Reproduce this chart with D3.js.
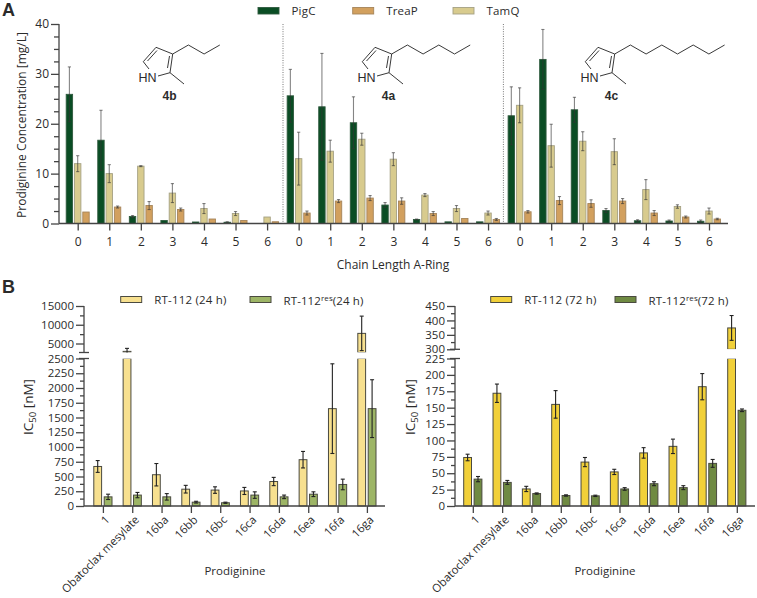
<!DOCTYPE html>
<html><head><meta charset="utf-8">
<script src="https://cdn.jsdelivr.net/npm/d3@7"></script>
<style>
html,body{margin:0;padding:0;background:#fff}
svg{display:block}
text{font-family:"Open Sans",sans-serif;fill:#2b2b2b}
</style></head><body>
<svg id="c" width="757" height="598"></svg>
<script>
// ---- Panel A data ----
const chainLengths = [0,1,2,3,4,5,6];
const seriesA = ["PigC","TamQ","TreaP"];
const legendA = ["PigC","TreaP","TamQ"];
const pigC  = [25.9,16.7,1.4,0.6,0.3,0.25,0,  25.6,23.4,20.2,3.7,0.8,0.33,0.33,  21.6,32.9,22.8,2.6,0.55,0.5,0.45];
const pigCE = [5.5,6,0.2,0,0,0.1,0,  5.3,10.7,5.2,0.5,0.1,0,0,  5.8,6,2.5,0.4,0.2,0.2,0.25];
const tamQ  = [12,10,11.5,6.1,3,2,1.3,  13,14.5,16.9,12.9,5.7,3,2.1,  23.7,15.6,16.5,14.4,6.8,3.4,2.5];
const tamQE = [1.6,1.8,0.1,1.9,1,0.4,0,  5.3,2.2,1.2,1.3,0.3,0.6,0.4,  3.5,4.3,1.9,2.6,2,0.35,0.6];
const treaP = [2.3,3.3,3.6,2.8,0.9,0.6,0.35,  2.1,4.5,5.1,4.5,2,1,0.8,  2.35,4.6,4,4.5,2.1,1.3,0.9];
const treaPE= [0,0.2,0.8,0.3,0,0,0,  0.4,0.3,0.5,0.65,0.4,0,0.2,  0.25,0.8,0.75,0.5,0.5,0.2,0.15];
const yTicksA = [0,10,20,30,40];
const moleculeChains = [{name:"4b",carbons:3},{name:"4a",carbons:5},{name:"4c",carbons:7}];

// ---- Panel B data ----
const compounds = ["1","Obatoclax mesylate","16ba","16bb","16bc","16ca","16da","16ea","16fa","16ga"];
const rt24  = [670,2900,530,285,270,255,415,785,1650,7700];
const rt24E = [100,800,190,65,55,60,70,140,760,4600];
const res24 = [155,185,155,65,55,185,155,200,365,1650];
const res24E= [45,45,55,15,10,55,30,40,90,490];
const rt72  = [74,172,26,155,67,52,81,91,182,374];
const rt72E = [5,14,4,21,7,4,8,11,20,43];
const res72 = [41,36,19,16,15.5,26,34,28,65,146];
const res72E= [4,3,1,1,1,2,3,3,6,2];
const ticks24Low = [0,250,500,750,1000,1250,1500,1750,2000,2250,2500];
const ticks24High = [5000,10000,15000];
const ticks72Low = [0,25,50,75,100,125,150,175,200,225];
const ticks72High = [300,350,400,450];

const svg = d3.select("#c");
const AXC = "#444";
function styleAxis(g, fs){
  g.selectAll("path,line").attr("stroke",AXC).attr("stroke-width",1.3);
  g.selectAll("text").attr("font-size",fs).attr("fill","#2b2b2b").style("font-family",'"Open Sans",sans-serif');
}
function errBar(g,x,y1,y0,cap,col,op,noLowCap){
  const segs = [[x,y1,x,y0],[x-cap,y1,x+cap,y1]];
  if(!noLowCap) segs.push([x-cap,y0,x+cap,y0]);
  segs.forEach(p=>{
    g.append("line").attr("x1",p[0]).attr("y1",p[1]).attr("x2",p[2]).attr("y2",p[3])
     .attr("stroke",col).attr("stroke-width",1.1).attr("stroke-opacity",op);
  });
}

// ---- Panel A ----
const idx = d3.range(21);
const xA = d3.scalePoint().domain(idx).range([77.7,709]);
const yA = d3.scaleLinear().domain([0,40]).range([223.5,24]);
const aColors = {PigC:"#0a4d24",TamQ:"#d8cb8e",TreaP:"#d2a05e"};
const aBorders = {PigC:"#2f5a3e",TamQ:"#a5a184",TreaP:"#a5845a"};
const aVals = {PigC:pigC,TamQ:tamQ,TreaP:treaP};
const aErrs = {PigC:pigCE,TamQ:tamQE,TreaP:treaPE};
const aOff = d3.scalePoint().domain(seriesA).range([-8.3,8.3]);

const barsA = svg.append("g");
seriesA.forEach(s=>{
  const gs = barsA.append("g");
  gs.selectAll("rect").data(idx).join("rect")
    .attr("x",i=>xA(i)+aOff(s)-3.2).attr("width",6.4)
    .attr("y",i=>yA(aVals[s][i])).attr("height",i=>yA(0)-yA(aVals[s][i]))
    .attr("fill",aColors[s]).attr("stroke",aBorders[s]).attr("stroke-width",0.9);
  idx.forEach(i=>{
    const e=aErrs[s][i]; if(!e) return;
    errBar(gs,xA(i)+aOff(s),yA(aVals[s][i]+e),yA(aVals[s][i]-e),1.6,"#333",0.6);
  });
});
[283,503.4].forEach(x=>svg.append("line").attr("x1",x).attr("x2",x).attr("y1",24).attr("y2",223)
  .attr("stroke","#777").attr("stroke-dasharray","1 1.4").attr("stroke-width",1));

const axA = svg.append("g").attr("transform","translate(59,0)");
axA.call(d3.axisLeft(yA).tickValues(d3.range(0,40.1,2.5)).tickSize(5).tickFormat(d=>yTicksA.includes(d)?d:"").tickPadding(3));
styleAxis(axA,12);
axA.selectAll(".tick").filter(d=>yTicksA.includes(d)).select("line").attr("x2",-8);
axA.selectAll(".tick text").attr("x",-10);
axA.select("path").attr("d","M0,24V223.5");

const axAx = svg.append("g").attr("transform","translate(0,223.5)");
axAx.call(d3.axisBottom(xA).tickSize(7).tickPadding(7).tickFormat(i=>chainLengths[i%7]));
styleAxis(axAx,12);
axAx.select("path").attr("d","M59,0H728");

svg.append("text").attr("transform","translate(26,125) rotate(-90)").attr("text-anchor","middle")
  .attr("font-size",12).text("Prodiginine Concentration [mg/L]");
svg.append("text").attr("x",393).attr("y",269).attr("text-anchor","middle").attr("font-size",12).text("Chain Length A-Ring");

const legAX = [258,352.7,453];
legendA.forEach((s,i)=>{
  svg.append("rect").attr("x",legAX[i]).attr("y",7.5).attr("width",21).attr("height",6.5)
    .attr("fill",aColors[s]).attr("stroke",aBorders[s]).attr("stroke-width",0.9);
  svg.append("text").attr("x",legAX[i]+33.5).attr("y",15).attr("font-size",11.5).attr("letter-spacing",0.2).text(s);
});

// molecules (decoration)
const molOff = [0,219,442];
moleculeChains.forEach((m,k)=>{
  const g = svg.append("g").attr("transform",`translate(${molOff[k]},0)`);
  const p = {fill:"none",stroke:"#222","stroke-width":0.9};
  let chain = "M172.7,54";
  for(let i=1;i<=m.carbons;i++) chain += `L${172.7+i*15.7},${i%2?45:54}`;
  [ "M158,76L170,72.7L172.7,54L156,47.3L143.3,61.7L149,69", "M170,72.7L184,84", chain,
    "M167.5,68L169.5,56", "M147.5,61L157,50.5" ].forEach(d=>{
      const e=g.append("path").attr("d",d); Object.entries(p).forEach(([a,v])=>e.attr(a,v));
  });
  g.append("text").attr("x",138.5).attr("y",82).attr("font-size",12.5).style("font-family","Liberation Sans").attr("fill","#111").text("HN");
  g.append("text").attr("x",169.5).attr("y",99.5).attr("text-anchor","middle").attr("font-size",12)
    .attr("font-weight","bold").style("font-family","Liberation Sans").attr("fill","#111").text(m.name);
});

// ---- Panel B ----
function panelB(o){
  const x = d3.scalePoint().domain(compounds).range([o.x0,o.x0+264]);
  const yL = d3.scaleLinear().domain([0,o.lowMax]).range([506,358.5]);
  const yH = d3.scaleLinear().domain(o.highDom).range(o.highRange);
  const topL = o.lowMax;
  const series = [{v:o.a,e:o.aE,c:o.ca,off:-5.2},{v:o.b,e:o.bE,c:o.cb,off:5.2}];
  series.forEach(s=>{
    const g = svg.append("g");
    compounds.forEach((c,i)=>{
      const cx = x(c)+s.off, v=s.v[i], e=s.e[i];
      const low = Math.min(v,topL);
      g.append("rect").attr("x",cx-3.9).attr("width",7.8).attr("y",yL(low)).attr("height",yL(0)-yL(low))
        .attr("fill",s.c).attr("stroke","#4a4a40").attr("stroke-width",1);
      if(v>topL){
        g.append("rect").attr("x",cx-3.9).attr("width",7.8).attr("y",yH(v)).attr("height",o.highRange[0]-yH(v))
          .attr("fill",s.c).attr("stroke","#4a4a40").attr("stroke-width",1);
        // open the border across the axis break
        g.append("rect").attr("x",cx-5).attr("width",10).attr("y",o.highRange[0]-0.2).attr("height",358.5-o.highRange[0]+0.4).attr("fill","#fff");
        const lo=Math.max(v-e,o.highDom[0]);
        errBar(g,cx,yH(v+e),yH(lo),2,"#222",1,v-e<o.highDom[0]);
      } else {
        errBar(g,cx,yL(v+e),yL(v-e),2,"#222",1);
      }
    });
  });
  // axes
  const axL = svg.append("g").attr("transform",`translate(${o.ax},0)`);
  axL.call(d3.axisLeft(yL).tickValues(d3.range(0,o.lowMax+1e-6,o.lowMinor)).tickSize(4).tickPadding(3)
     .tickFormat(d=>o.lowT.includes(d)?d:""));
  styleAxis(axL,11.5);
  axL.selectAll(".tick").filter(d=>o.lowT.includes(d)).select("line").attr("x2",-8);
  axL.selectAll(".tick text").attr("x",-10);
  axL.select("path").attr("d","M0,358.5V506");
  const axH = svg.append("g").attr("transform",`translate(${o.ax},0)`);
  axH.call(d3.axisLeft(yH).tickValues(o.highMinorT).tickSize(4).tickPadding(3)
     .tickFormat(d=>o.highT.includes(d)?d:""));
  styleAxis(axH,11.5);
  axH.selectAll(".tick").filter(d=>o.highT.includes(d)).select("line").attr("x2",-8);
  axH.selectAll(".tick text").attr("x",-10);
  axH.select("path").attr("d",`M0,306V${o.highRange[0]}`);
  [o.highRange[0],358.5].forEach(yy=>svg.append("line").attr("x1",o.ax-5).attr("x2",o.ax+5).attr("y1",yy).attr("y2",yy)
    .attr("stroke",AXC).attr("stroke-width",1.3));

  const axX = svg.append("g").attr("transform","translate(0,506)");
  axX.call(d3.axisBottom(x).tickSize(7).tickPadding(5));
  styleAxis(axX,11.3);
  axX.select("path").attr("d",`M${o.ax},0H${o.axEnd}`);
  axX.selectAll(".tick text").attr("text-anchor","end").attr("dy",0).attr("y",0)
    .attr("transform","translate(7,14.5) rotate(-45)");

  svg.append("text").attr("x",o.labX).attr("y",575).attr("text-anchor","middle").attr("font-size",11.5).text("Prodiginine");
  const yl = svg.append("text").attr("transform",`translate(${o.icX},407) rotate(-90)`).attr("text-anchor","middle").attr("font-size",13.5);
  yl.append("tspan").text("IC");
  yl.append("tspan").attr("font-size",9.5).attr("dy",3).text("50");
  yl.append("tspan").attr("dy",-3).text(" [nM]");

  svg.append("rect").attr("x",o.leg[0]).attr("y",296.5).attr("width",21).attr("height",6).attr("fill",o.ca).attr("stroke","#4a4a40").attr("stroke-width",1);
  svg.append("text").attr("x",o.leg[0]+33.5).attr("y",304).attr("font-size",11.5).attr("letter-spacing",0.2).text(`RT-112 (${o.h} h)`);
  svg.append("rect").attr("x",o.leg[1]).attr("y",296.5).attr("width",21).attr("height",6).attr("fill",o.cb).attr("stroke","#4a4a40").attr("stroke-width",1);
  const t = svg.append("text").attr("x",o.leg[1]+33.5).attr("y",305).attr("font-size",11.5).attr("letter-spacing",0.1);
  t.append("tspan").text("RT-112");
  t.append("tspan").attr("font-size",8).attr("dy",-4).text("res");
  t.append("tspan").attr("dy",4).text(`(${o.h} h)`);
}
panelB({x0:102.9,ax:84,axEnd:385,a:rt24,aE:rt24E,b:res24,bE:res24E,ca:"#f7e08f",cb:"#9db566",lowMax:2500,lowMinor:125,
  lowT:ticks24Low,highT:ticks24High,highMinorT:[5000,7500,10000,12500,15000],highDom:[2600,15000],highRange:[352.5,306],
  h:24,leg:[120.7,250],labX:235,icX:33});
panelB({x0:472.8,ax:455,axEnd:755,a:rt72,aE:rt72E,b:res72,bE:res72E,ca:"#f1d039",cb:"#6f8a42",lowMax:225,lowMinor:12.5,
  lowT:ticks72Low,highT:ticks72High,highMinorT:[300,325,350,375,400,425,450],highDom:[300,450],highRange:[349.3,306],
  h:72,leg:[490.7,615],labX:605,icX:415});

svg.append("text").attr("x",2).attr("y",16).attr("font-size",18).attr("font-weight","bold").style("font-family","Liberation Sans").attr("fill","#111").text("A");
svg.append("text").attr("x",2).attr("y",293).attr("font-size",18).attr("font-weight","bold").style("font-family","Liberation Sans").attr("fill","#111").text("B");
</script></body></html>
